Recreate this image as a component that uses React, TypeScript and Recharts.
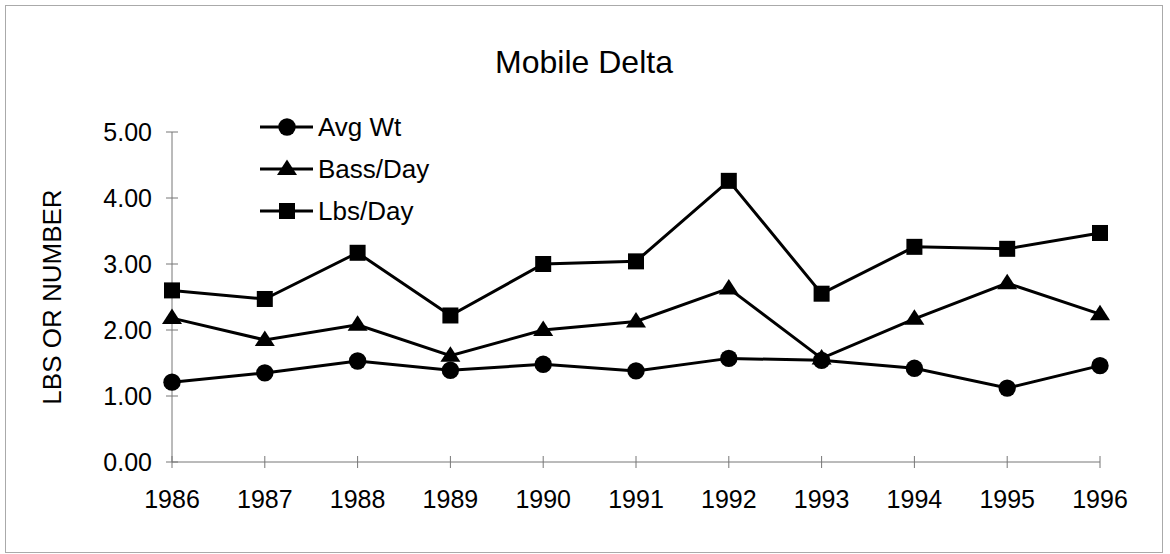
import { LineChart, Line, XAxis, YAxis, Legend } from "recharts";

const years = ["1986", "1987", "1988", "1989", "1990", "1991", "1992", "1993", "1994", "1995", "1996"];
const avgWt = [1.21, 1.35, 1.53, 1.39, 1.48, 1.38, 1.57, 1.54, 1.42, 1.12, 1.46];
const bassPerDay = [2.18, 1.85, 2.08, 1.61, 2.0, 2.13, 2.63, 1.57, 2.17, 2.71, 2.24];
const lbsPerDay = [2.6, 2.47, 3.17, 2.22, 3.0, 3.04, 4.26, 2.55, 3.26, 3.23, 3.47];
const yTicks = [0, 1, 2, 3, 4, 5];

const data = years.map((year, i) => ({
  year,
  avgWt: avgWt[i],
  bass: bassPerDay[i],
  lbs: lbsPerDay[i],
}));

const FONT = "'Liberation Sans', Arial, Helvetica, sans-serif";
const TICK_SIZE = 6;
const Y_TICK_MARGIN = 14;
const X_TICK_MARGIN = 22;
const AXIS_COLOR = "#777";

type Shape = "circle" | "triangle" | "square";

const series: { key: string; name: string; shape: Shape }[] = [
  { key: "avgWt", name: "Avg Wt", shape: "circle" },
  { key: "bass", name: "Bass/Day", shape: "triangle" },
  { key: "lbs", name: "Lbs/Day", shape: "square" },
];

function Marker({ shape, cx, cy }: { shape: Shape; cx: number; cy: number }) {
  if (shape === "circle") return <circle cx={cx} cy={cy} r={8.7} fill="#000" />;
  if (shape === "square")
    return <rect x={cx - 8} y={cy - 8} width={16} height={16} fill="#000" />;
  return (
    <polygon
      points={`${cx},${cy - 9.5} ${cx - 10},${cy + 6} ${cx + 10},${cy + 6}`}
      fill="#000"
    />
  );
}

function makeDot(shape: Shape) {
  return (props: any) => {
    const { cx, cy, index } = props;
    if (cx == null || cy == null) return <g key={index} />;
    return <Marker key={index} shape={shape} cx={cx} cy={cy} />;
  };
}

function YTick(props: any) {
  const { x, y, payload } = props;
  const axisX = x + TICK_SIZE + Y_TICK_MARGIN;
  return (
    <g>
      <line x1={axisX - 6} x2={axisX + 6} y1={y} y2={y} stroke={AXIS_COLOR} />
      <text
        x={x}
        y={y}
        dy="0.36em"
        textAnchor="end"
        fontSize={25}
        fontFamily={FONT}
        fill="#000"
      >
        {Number(payload.value).toFixed(2)}
      </text>
    </g>
  );
}

function XTick(props: any) {
  const { x, y, payload } = props;
  const axisY = y - TICK_SIZE - X_TICK_MARGIN;
  return (
    <g>
      <line x1={x} x2={x} y1={axisY - 6} y2={axisY + 6} stroke={AXIS_COLOR} />
      <text
        x={x}
        y={y}
        dy="0.71em"
        textAnchor="middle"
        fontSize={25}
        fontFamily={FONT}
        fill="#000"
      >
        {payload.value}
      </text>
    </g>
  );
}

function LegendBox() {
  return (
    <div style={{ fontFamily: FONT, fontSize: 26, color: "#000" }}>
      {series.map((s) => (
        <div
          key={s.key}
          style={{ display: "flex", alignItems: "center", height: 42 }}
        >
          <svg width={56} height={24} style={{ display: "block" }}>
            <line x1={0} x2={53} y1={12} y2={12} stroke="#000" strokeWidth={3} />
            <Marker shape={s.shape} cx={27} cy={12} />
          </svg>
          <span style={{ marginLeft: 2, lineHeight: 1 }}>{s.name}</span>
        </div>
      ))}
    </div>
  );
}

export default function App() {
  return (
    <div
      style={{
        position: "absolute",
        left: 0,
        top: 0,
        width: 1170,
        height: 554,
        background: "#fff",
        fontFamily: FONT,
      }}
    >
      {/* faint frame round the chart */}
      <div
        style={{
          position: "absolute",
          left: 5,
          top: 5,
          width: 1158,
          height: 548,
          border: "1px solid #aaa",
          boxSizing: "border-box",
        }}
      />
      <div
        style={{
          position: "absolute",
          left: 0,
          top: 46,
          width: 1168,
          textAlign: "center",
          fontSize: 32,
          lineHeight: 1,
          color: "#000",
        }}
      >
        Mobile Delta
      </div>
      <LineChart
        width={1170}
        height={554}
        data={data}
        margin={{ top: 132, right: 70, bottom: 32, left: 0 }}
      >
        <XAxis
          dataKey="year"
          height={60}
          stroke={AXIS_COLOR}
          tickLine={false}
          tickSize={TICK_SIZE}
          tickMargin={X_TICK_MARGIN}
          tick={<XTick />}
          interval={0}
        />
        <YAxis
          width={172}
          domain={[0, 5]}
          ticks={yTicks}
          stroke={AXIS_COLOR}
          tickLine={false}
          tickSize={TICK_SIZE}
          tickMargin={Y_TICK_MARGIN}
          tick={<YTick />}
          label={{
            value: "LBS OR NUMBER",
            angle: -90,
            position: "insideLeft",
            offset: 52,
            style: {
              textAnchor: "middle",
              fontSize: 26,
              fontFamily: FONT,
              fill: "#000",
            },
          }}
        />
        <Legend
          layout="horizontal"
          verticalAlign="middle"
          align="center"
          content={() => <LegendBox />}
          wrapperStyle={{ left: 260, top: 106, width: 260 }}
        />
        {series.map((s) => (
          <Line
            key={s.key}
            dataKey={s.key}
            name={s.name}
            stroke="#000"
            strokeWidth={3}
            dot={makeDot(s.shape)}
            activeDot={false}
            isAnimationActive={false}
          />
        ))}
      </LineChart>
    </div>
  );
}
